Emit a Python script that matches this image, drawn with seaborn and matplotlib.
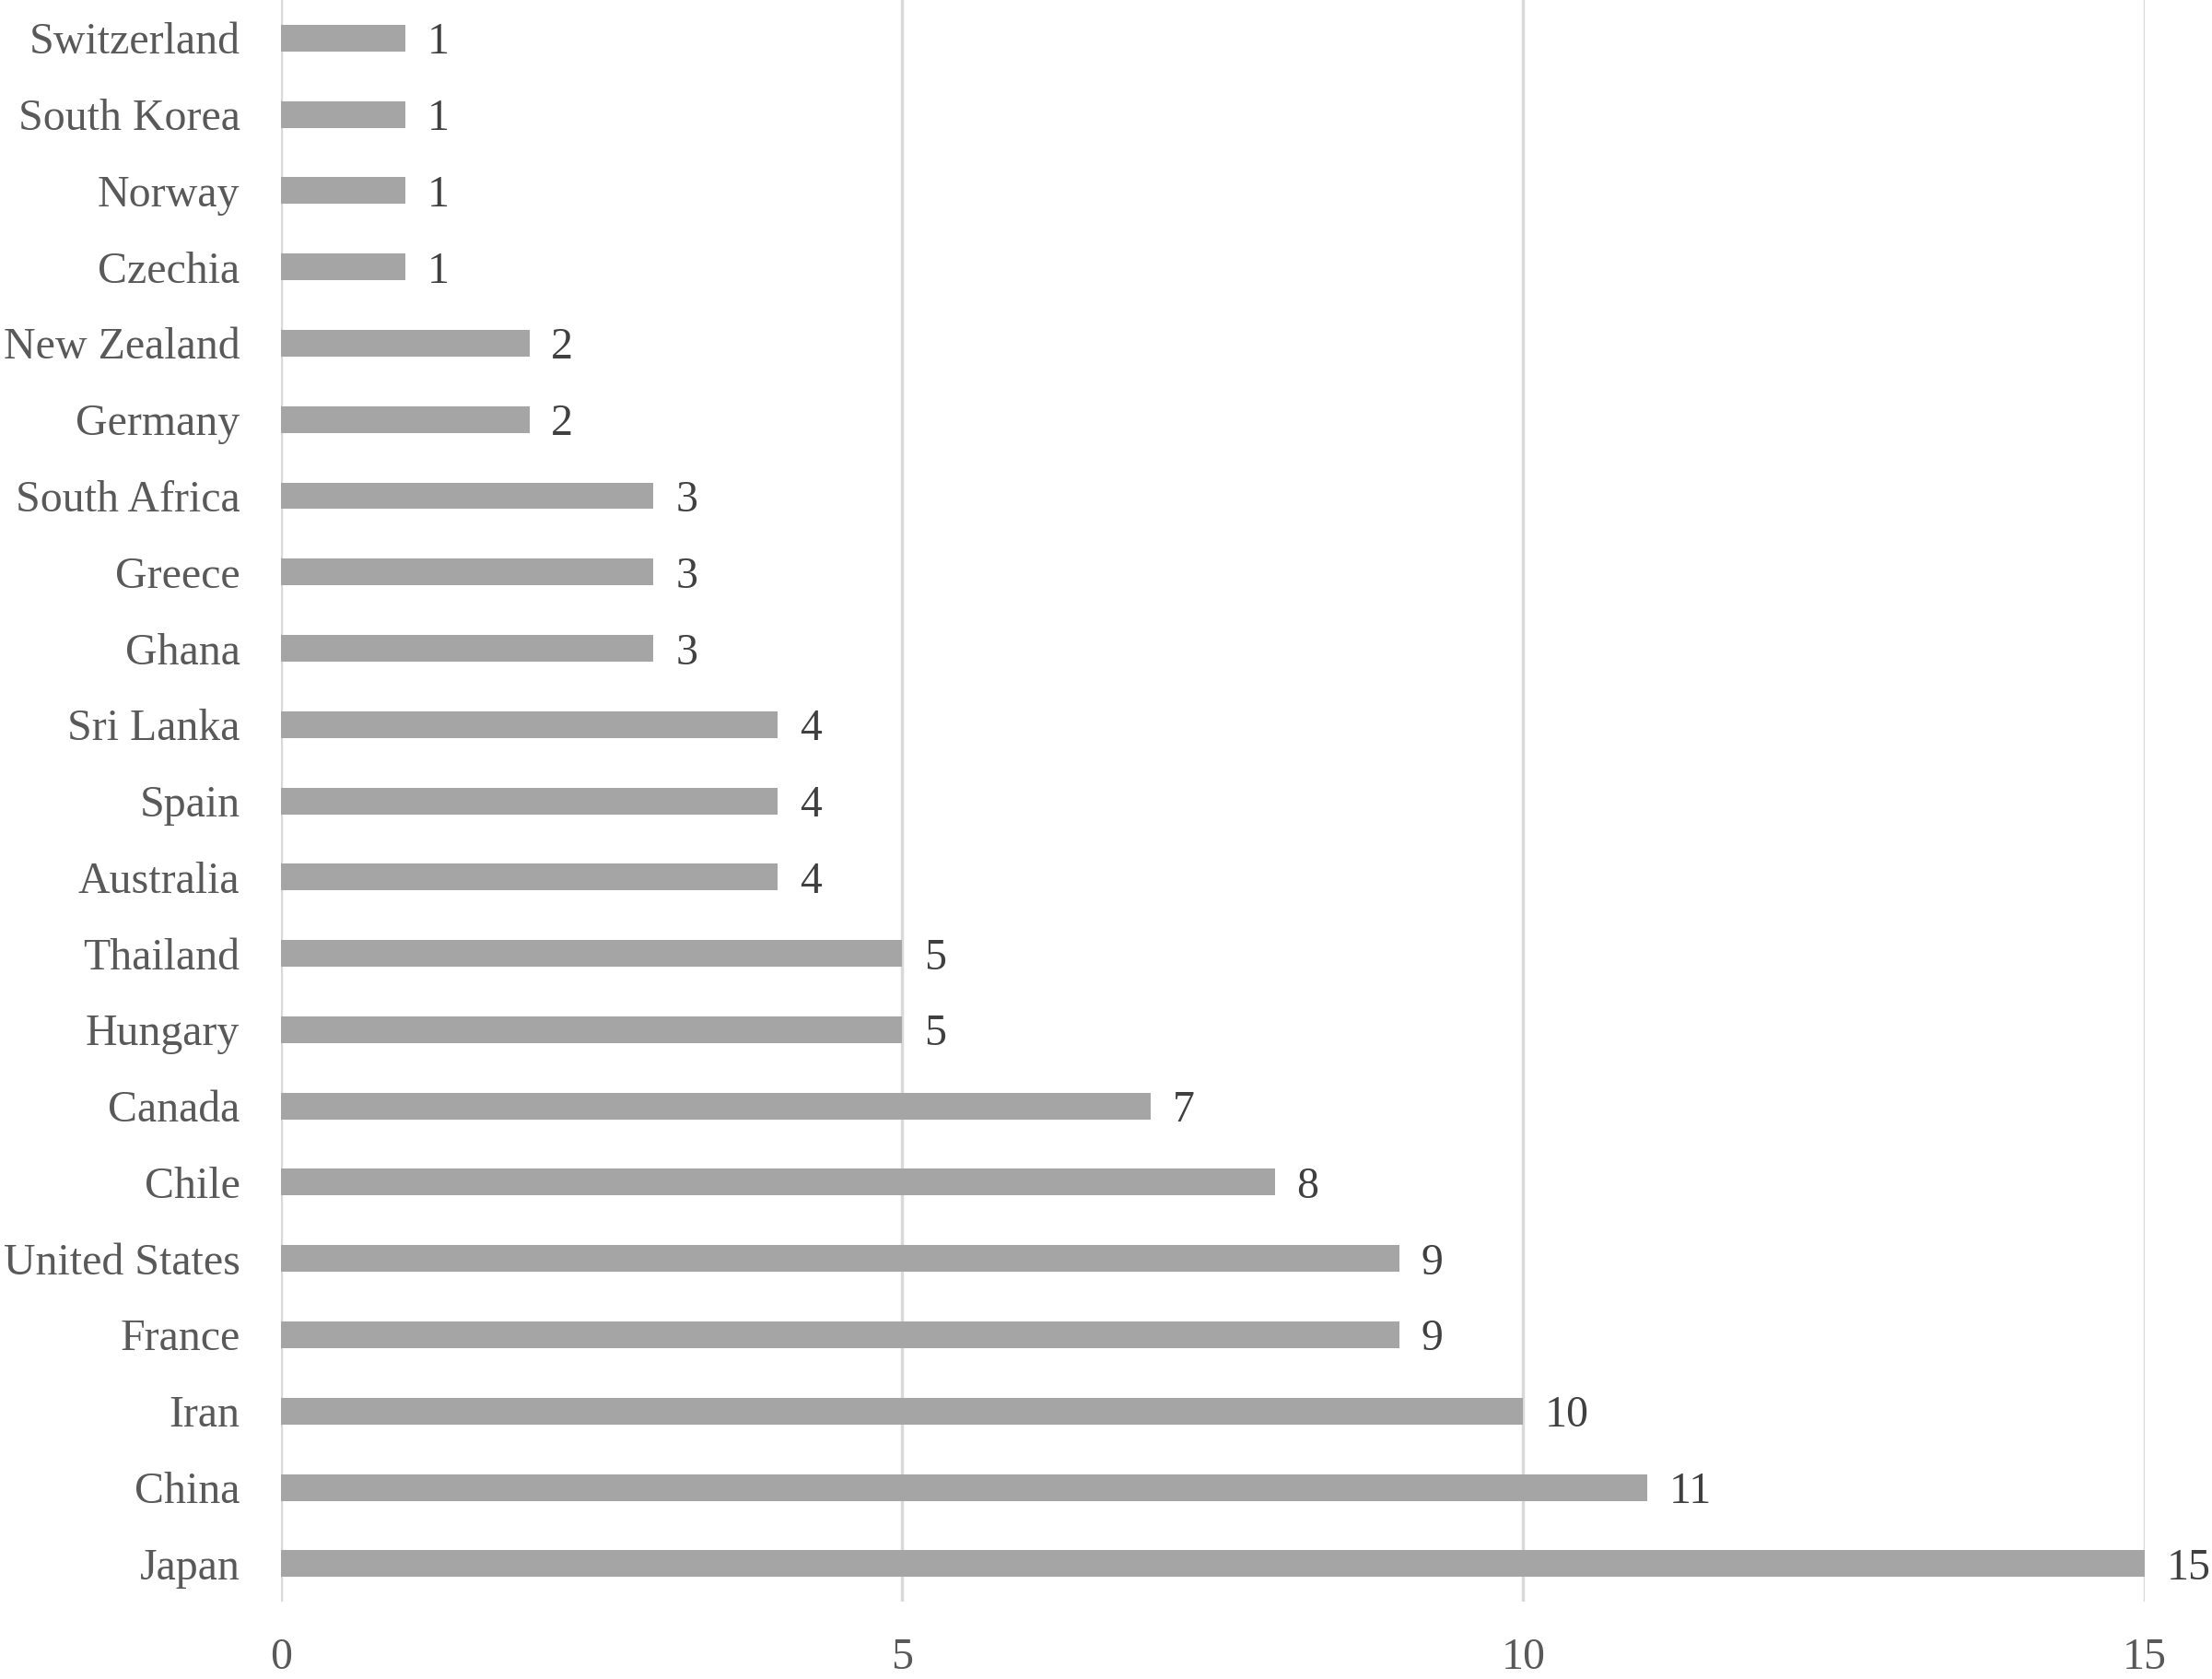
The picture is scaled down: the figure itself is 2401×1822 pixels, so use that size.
import matplotlib
matplotlib.use("Agg")
import matplotlib.pyplot as plt
import seaborn as sns
import pandas as pd

countries = ["Switzerland", "South Korea", "Norway", "Czechia", "New Zealand", "Germany",
             "South Africa", "Greece", "Ghana", "Sri Lanka", "Spain", "Australia",
             "Thailand", "Hungary", "Canada", "Chile", "United States", "France",
             "Iran", "China", "Japan"]
counts = [1, 1, 1, 1, 2, 2, 3, 3, 3, 4, 4, 4, 5, 5, 7, 8, 9, 9, 10, 11, 15]
xticks = [0, 5, 10, 15]

sns.set_theme(style="white")
plt.rcParams['font.family'] = ['Liberation Serif', 'DejaVu Serif']

df = pd.DataFrame({"country": countries, "count": counts})

fig = plt.figure(figsize=(24.01, 18.22), dpi=100)
ax = fig.add_axes([0.127, 0.046, 0.8425, 0.954])

sns.barplot(data=df, y="country", x="count", orient="h", color="#a5a5a5",
            width=0.35, saturation=1, edgecolor="none", ax=ax)

ax.set_xlim(0, 15)
ax.set_ylim(20.5, -0.5)
ax.set_xticks(xticks)
ax.xaxis.grid(True, color="#d9d9d9", linewidth=2.5)
ax.yaxis.grid(False)
ax.set_axisbelow(True)
for s in ax.spines.values():
    s.set_visible(False)
ax.set_xlabel("")
ax.set_ylabel("")
ax.tick_params(axis="y", length=0, pad=32, labelsize=34.5, labelcolor="#595959")
ax.tick_params(axis="x", length=0, pad=28, labelsize=34.5, labelcolor="#595959")

for c in ax.containers:
    txts = ax.bar_label(c, labels=[str(v) for v in counts], padding=17, fontsize=34.5, color="#404040")
    for t in txts:
        t.set_verticalalignment("center_baseline")

fig.savefig("out.png", dpi=100)
